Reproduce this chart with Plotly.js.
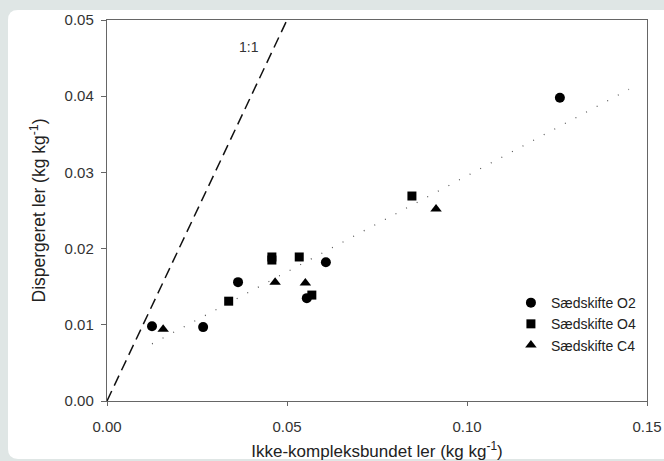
<!DOCTYPE html>
<html>
<head>
<meta charset="utf-8">
<script src="https://cdn.plot.ly/plotly-3.0.1.min.js"></script>
<style>html,body{margin:0;padding:0;background:#dfe6e5;}#chart{width:664px;height:461px;}</style>
</head>
<body>
<div id="chart"></div>
<script>
// Sædskifte O2 (circles)
const o2_x = [0.0125, 0.0267, 0.0364, 0.0555, 0.0608, 0.1258];
const o2_y = [0.0098, 0.0097, 0.0156, 0.0135, 0.0182, 0.0398];
// Sædskifte O4 (squares)
const o4_x = [0.0338, 0.0458, 0.0458, 0.0534, 0.0569, 0.0847];
const o4_y = [0.0131, 0.0189, 0.0185, 0.0189, 0.0139, 0.0269];
// Sædskifte C4 (triangles)
const c4_x = [0.0156, 0.0467, 0.0551, 0.0914];
const c4_y = [0.0094, 0.0156, 0.0155, 0.0252];
// 1:1 line
const one_x = [0, 0.05];
const one_y = [0, 0.05];
// regression line (dotted)
const reg_x = [0.0125, 0.145];
const reg_y = [0.0075, 0.0409];

const xTicks = [0, 0.05, 0.10, 0.15];
const xTickText = ['0.00', '0.05', '0.10', '0.15'];
const yTicks = [0, 0.01, 0.02, 0.03, 0.04, 0.05];
const yTickText = ['0.00', '0.01', '0.02', '0.03', '0.04', '0.05'];

const font = 'Liberation Sans, Arial, sans-serif';
const traces = [
  {x: one_x, y: one_y, mode: 'lines', line: {color: '#111', width: 1.5, dash: '11px,6px'}, showlegend: false, hoverinfo: 'skip'},
  {x: reg_x, y: reg_y, mode: 'lines', line: {color: '#555', width: 1.2, dash: '1px,11px'}, showlegend: false, hoverinfo: 'skip'},
  {x: o2_x, y: o2_y, mode: 'markers', name: 'Sædskifte O2', marker: {symbol: 'circle', size: 10, color: '#000'}},
  {x: o4_x, y: o4_y, mode: 'markers', name: 'Sædskifte O4', marker: {symbol: 'square', size: 9, color: '#000'}},
  {x: c4_x, y: c4_y, mode: 'markers', name: 'Sædskifte C4', marker: {symbol: 'triangle-up', size: 10, color: '#000'}}
];

// card geometry in paper coordinates (plot area: 107..647 px, 20..401 px)
const L = -0.1833, R = 1.06, T = 1.0262, B = -0.1522, rx = 0.0185, ry = 0.0262;
const cardPath = `M ${L+rx} ${T} L ${R} ${T} L ${R} ${B} L ${L+rx} ${B} Q ${L} ${B} ${L} ${B+ry} L ${L} ${T-ry} Q ${L} ${T} ${L+rx} ${T} Z`;

const layout = {
  width: 664, height: 461,
  margin: {l: 107, r: 17, t: 20, b: 60},
  paper_bgcolor: '#dfe6e5',
  plot_bgcolor: '#ffffff',
  font: {family: font, size: 14, color: '#333'},
  showlegend: true,
  legend: {x: 0.748, y: 0.202, xanchor: 'left', yanchor: 'middle', bgcolor: 'rgba(0,0,0,0)', font: {size: 14, color: '#222'}, itemwidth: 30, tracegroupgap: 0},
  xaxis: {
    range: [0, 0.15], tickvals: xTicks, ticktext: xTickText,
    showgrid: false, zeroline: false, showline: true, mirror: true,
    linecolor: '#666', linewidth: 1.2, ticks: 'outside', ticklen: 4, tickcolor: '#666',
    ticklabelstandoff: 8,
    tickfont: {size: 15, color: '#333'},
    title: {text: 'Ikke-kompleksbundet ler (kg kg<sup>-1</sup>)', font: {size: 17, color: '#222'}, standoff: 13},
    automargin: false
  },
  yaxis: {
    range: [0, 0.05], tickvals: yTicks, ticktext: yTickText,
    showgrid: false, zeroline: false, showline: true, mirror: true,
    linecolor: '#666', linewidth: 1.2, ticks: 'outside', ticklen: 5, tickcolor: '#666',
    ticklabelstandoff: 4,
    tickfont: {size: 15, color: '#333'},
    title: {text: 'Dispergeret ler (kg kg<sup>-1</sup>)', font: {size: 17.5, color: '#222'}, standoff: 14},
    automargin: false
  },
  shapes: [
    {type: 'path', xref: 'paper', yref: 'paper', path: cardPath, fillcolor: '#ffffff', line: {width: 0}, layer: 'below'}
  ],
  annotations: [
    {x: 0.0395, y: 0.0465, xref: 'x', yref: 'y', text: '1:1', showarrow: false, font: {size: 14, color: '#333'}}
  ]
};

Plotly.newPlot('chart', traces, layout, {displayModeBar: false, staticPlot: true});
</script>
</body>
</html>
